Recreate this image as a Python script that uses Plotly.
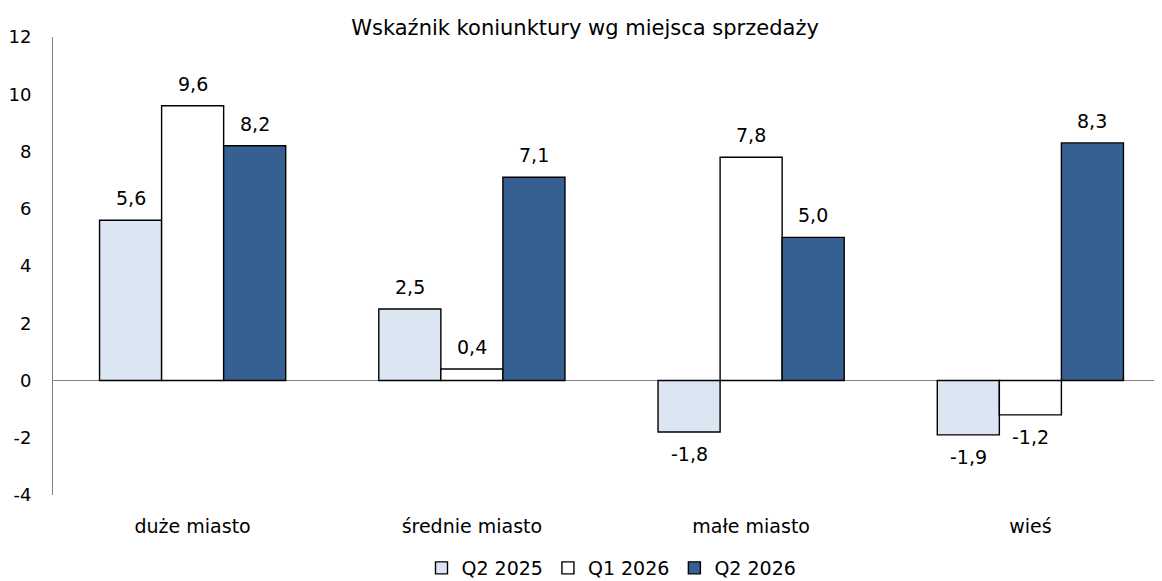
import plotly.graph_objects as go

categories = ["duże miasto", "średnie miasto", "małe miasto", "wieś"]
series_names = ["Q2 2025", "Q1 2026", "Q2 2026"]
q2_2025 = [5.6, 2.5, -1.8, -1.9]
q1_2026 = [9.6, 0.4, 7.8, -1.2]
q2_2026 = [8.2, 7.1, 5.0, 8.3]
series_values = [q2_2025, q1_2026, q2_2026]
colors = ["#DCE6F2", "#FFFFFF", "#376092"]
y_ticks = [-4, -2, 0, 2, 4, 6, 8, 10, 12]

FONT = "DejaVu Sans"
FS = 19
x_idx = list(range(len(categories)))

fig = go.Figure()
for name, vals, col in zip(series_names, series_values, colors):
    fig.add_trace(go.Bar(
        x=x_idx, y=vals, name=name,
        marker=dict(color=col, line=dict(color="#000000", width=1.4)),
        hoverinfo="skip",
    ))

bar_w = 2 / 9
for k, vals in enumerate(series_values):
    for i, v in enumerate(vals):
        fig.add_annotation(
            x=i + (k - 1) * bar_w, y=v,
            text=f"{v:.1f}".replace(".", ","),
            showarrow=False,
            yshift=22 if v >= 0 else -22,
            font=dict(family=FONT, size=FS, color="#000000"),
        )

fig.update_layout(
    width=1162, height=581,
    paper_bgcolor="white", plot_bgcolor="white",
    margin=dict(l=45, r=0, t=29, b=94),
    barmode="group", bargap=1/3, bargroupgap=0,
    font=dict(family=FONT, size=FS, color="#000000"),
    title=dict(text="Wskaźnik koniunktury wg miejsca sprzedaży", x=0.4966, xanchor="center",
               y=1 - 20/581, yanchor="middle", font=dict(family=FONT, size=21, color="#000000")),
    showlegend=True,
    legend=dict(orientation="h", x=0.5, xanchor="center", yref="container",
                y=1 - 560/581, yanchor="middle",
                font=dict(family=FONT, size=FS), itemwidth=30, traceorder="normal"),
    xaxis=dict(tickmode="array", tickvals=x_idx, ticktext=categories, range=[-0.5, 3.5],
               showline=False, showgrid=False, zeroline=False, ticks="",
               ticklabelstandoff=18, automargin=False),
    yaxis=dict(range=[-4, 12], tickmode="array", tickvals=y_ticks,
               ticktext=[str(t) for t in y_ticks], showgrid=False, showline=True,
               linecolor="#808080", linewidth=1, zeroline=True, zerolinecolor="#808080",
               zerolinewidth=1, ticks="", ticklabelstandoff=17, automargin=False,
               tickfont=dict(family=FONT, size=18)),
)

fig.write_html("out.html")
